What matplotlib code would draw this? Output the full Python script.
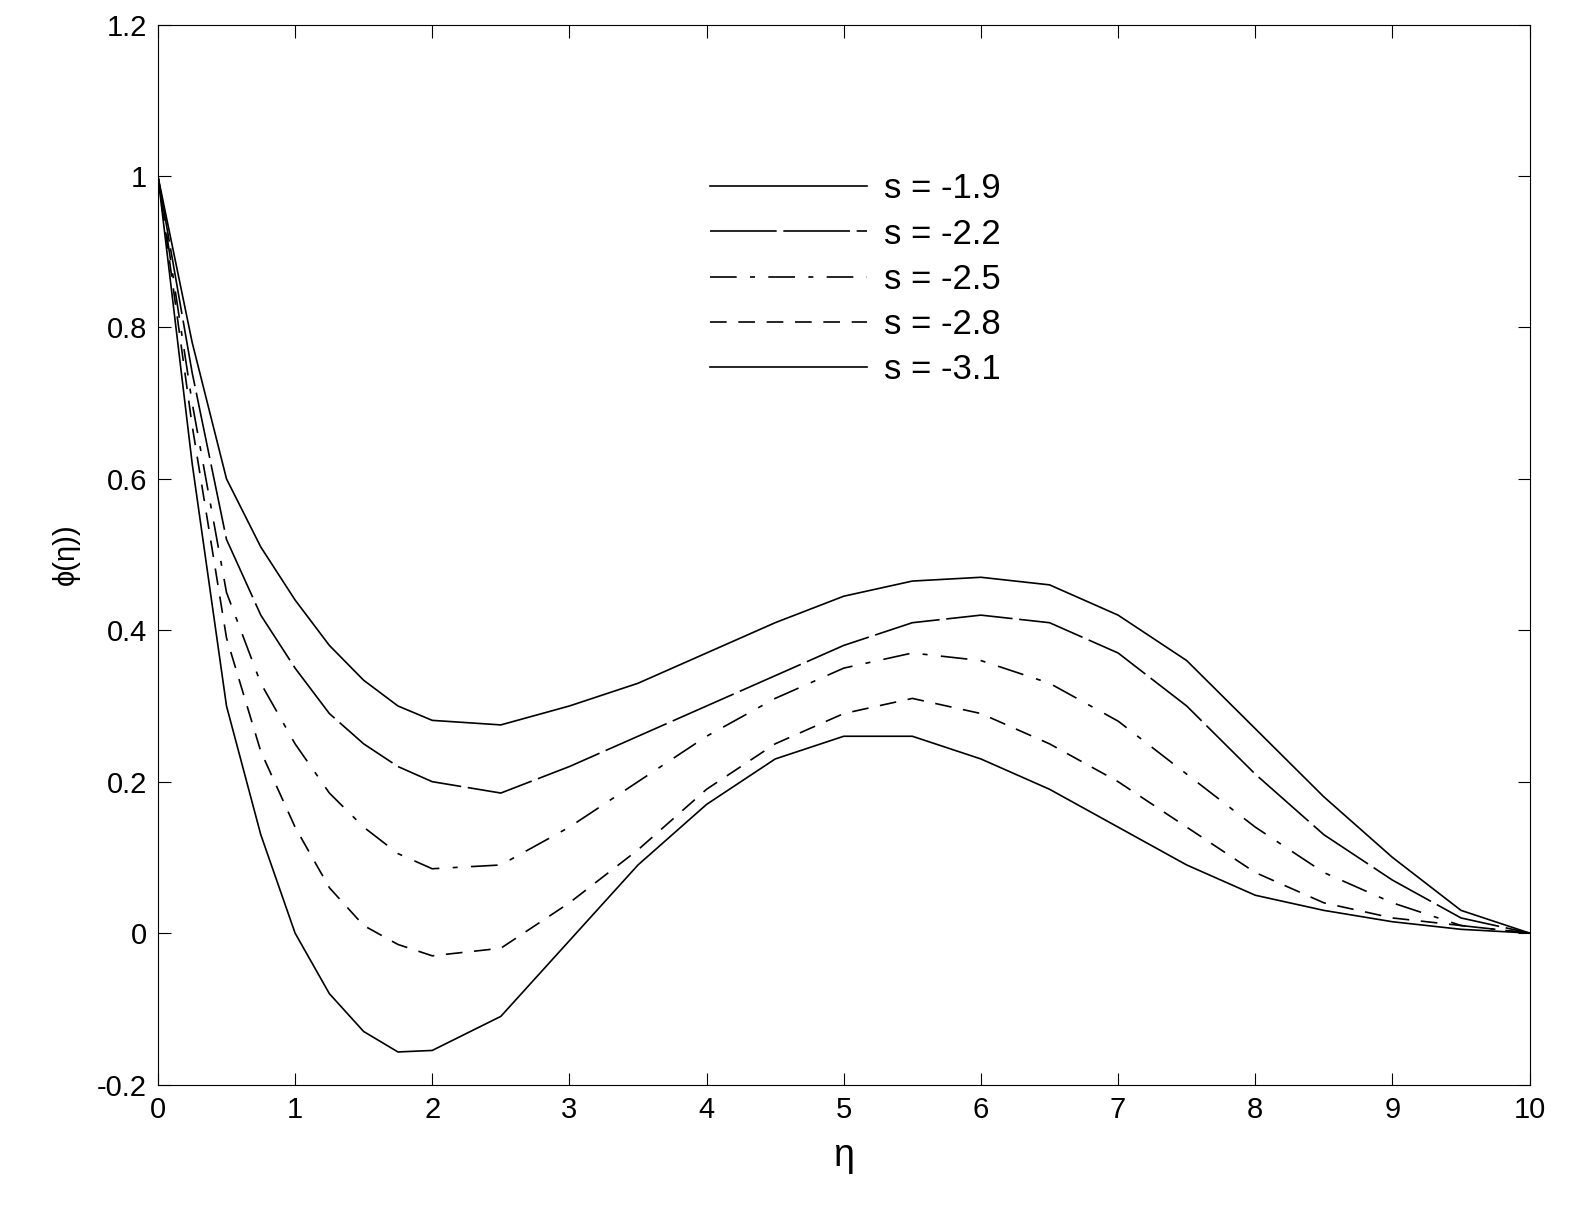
import matplotlib
matplotlib.use("Agg")
import matplotlib.pyplot as plt

eta = [0, 0.25, 0.5, 0.75, 1, 1.25, 1.5, 1.75, 2, 2.5, 3, 3.5, 4, 4.5, 5, 5.5, 6, 6.5, 7, 7.5, 8, 8.5, 9, 9.5, 10]
labels = ["s = -1.9", "s = -2.2", "s = -2.5", "s = -2.8", "s = -3.1"]
phi_a = [1, 0.78, 0.60, 0.51, 0.44, 0.38, 0.334, 0.30, 0.281, 0.275, 0.30, 0.33, 0.37, 0.41, 0.445, 0.465, 0.47, 0.46, 0.42, 0.36, 0.27, 0.18, 0.10, 0.03, 0]
phi_b = [1, 0.74, 0.52, 0.42, 0.35, 0.29, 0.25, 0.22, 0.20, 0.185, 0.22, 0.26, 0.30, 0.34, 0.38, 0.41, 0.42, 0.41, 0.37, 0.30, 0.21, 0.13, 0.07, 0.02, 0]
phi_c = [1, 0.70, 0.45, 0.33, 0.25, 0.185, 0.14, 0.105, 0.085, 0.09, 0.14, 0.20, 0.26, 0.31, 0.35, 0.37, 0.36, 0.33, 0.28, 0.21, 0.14, 0.08, 0.04, 0.01, 0]
phi_d = [1, 0.67, 0.39, 0.24, 0.14, 0.06, 0.01, -0.015, -0.03, -0.02, 0.04, 0.11, 0.19, 0.25, 0.29, 0.31, 0.29, 0.25, 0.20, 0.14, 0.08, 0.04, 0.02, 0.01, 0]
phi_e = [1, 0.62, 0.30, 0.13, 0.0, -0.08, -0.13, -0.157, -0.155, -0.11, -0.01, 0.09, 0.17, 0.23, 0.26, 0.26, 0.23, 0.19, 0.14, 0.09, 0.05, 0.03, 0.015, 0.005, 0]
series = [phi_a, phi_b, phi_c, phi_d, phi_e]
styles = ["-", (0, (40, 4)), (0, (16, 8, 3, 8)), (0, (10, 7)), "-"]
widths = [1.2, 1.2, 1.2, 1.2, 1.2]

plt.rcParams['font.family'] = ['Liberation Sans', 'DejaVu Sans']
fig = plt.figure(figsize=(15.95, 12.31), dpi=100)
ax = fig.add_axes([0.099, 0.119, 0.86, 0.861])
for y, lab, ls, lw in zip(series, labels, styles, widths):
    ax.plot(eta, y, color="black", linestyle=ls, linewidth=lw, label=lab)
ax.set_xlim(0, 10)
ax.set_ylim(-0.2, 1.2)
ax.set_xticks(range(0, 11))
ax.set_yticks([-0.2, 0, 0.2, 0.4, 0.6, 0.8, 1, 1.2])
ax.set_yticklabels(["-0.2", "0", "0.2", "0.4", "0.6", "0.8", "1", "1.2"])
ax.tick_params(direction="in", top=True, right=True, labelsize=21, length=9, pad=8)
ax.set_xlabel("η", fontsize=27, labelpad=10)
ax.set_ylabel("ϕ(η))", fontsize=21, labelpad=12)
ax.legend(loc="upper left", bbox_to_anchor=(0.38, 0.89), frameon=False, fontsize=25,
          handlelength=4.5, labelspacing=0.35, handletextpad=0.5)
fig.savefig("out.png")
